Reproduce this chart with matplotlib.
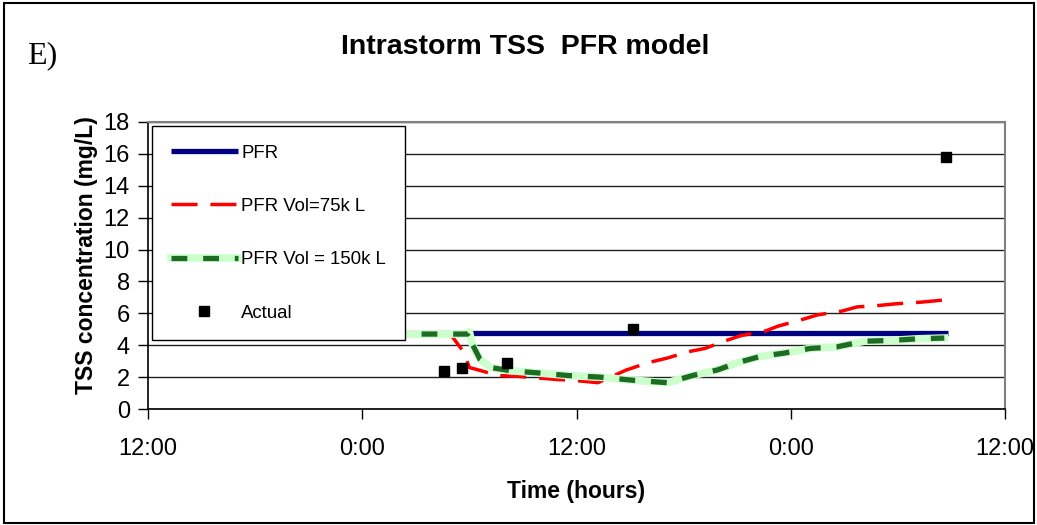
import numpy as np
import matplotlib
matplotlib.use("Agg")
import matplotlib.pyplot as plt
from matplotlib.patches import Rectangle
from matplotlib.legend_handler import HandlerTuple

plt.rcParams['font.family'] = ['Liberation Sans', 'DejaVu Sans']

# time in hours after the first 12:00 tick
tick_pos = [0, 12, 24, 36, 48]
tick_lab = ['12:00', '0:00', '12:00', '0:00', '12:00']

pfr_h = [10, 44.8]
pfr_v = [4.75, 4.75]

vol75_h = [10, 16.9, 17.1, 17.6, 17.8, 18.0, 18.5, 19.6, 20.7, 21.8, 22.9, 23.8, 25.2, 25.5,
           26.8, 28.0, 29.1, 30.3, 31.2, 32.4, 33.2, 34.6, 35.3, 36.6, 37.5, 38.9, 39.7,
           41.0, 41.9, 43.3, 44.7]
vol75_v = [4.7, 4.7, 4.45, 3.7, 3.2, 2.6, 2.45, 2.1, 2.05, 1.95, 1.85, 1.8, 1.65, 1.8,
           2.45, 2.9, 3.2, 3.6, 3.8, 4.3, 4.6, 4.9, 5.2, 5.6, 5.9, 6.15, 6.4,
           6.5, 6.6, 6.7, 6.85]

vol150_h = [10, 17.9, 18.0, 18.15, 18.6, 19.2, 20.3, 22.0, 23.5, 25.3, 27.2, 29.1, 30.5,
            31.9, 33.0, 34.3, 35.6, 37.1, 38.6, 40.1, 41.6, 43.1, 44.6]
vol150_v = [4.7, 4.7, 4.85, 4.1, 3.1, 2.6, 2.4, 2.25, 2.1, 2.0, 1.8, 1.65, 2.1,
            2.45, 2.9, 3.3, 3.5, 3.8, 3.9, 4.25, 4.3, 4.4, 4.45]

actual_h = [16.6, 17.6, 20.1, 27.15, 44.7]
actual_v = [2.4, 2.6, 2.9, 5.0, 15.8]

fig = plt.figure(figsize=(10.37, 5.25), dpi=100)
ax = fig.add_axes([148/1037, 1-409/525, 857/1037, 287/525])

ax.set_axisbelow(True)
ax.yaxis.grid(True, color='#202020', lw=1)

l_pfr, = ax.plot(pfr_h, pfr_v, color='#000080', lw=3.8, solid_capstyle='butt', zorder=3)
l_75, = ax.plot(vol75_h, vol75_v, color='#ff0000', lw=2.5, ls=(0, (7.5, 3.7)), zorder=4)
l_150a, = ax.plot(vol150_h, vol150_v, color='#ccffcc', lw=5.5, zorder=5)
l_150b, = ax.plot(vol150_h, vol150_v, color='#1e6b23', lw=3.8, ls=(0, (3.0, 3.0)), zorder=6)
l_act, = ax.plot(actual_h, actual_v, 's', color='black', ms=7, zorder=7)

ax.set_xlim(0, 48)
ax.set_ylim(0, 18)
ax.set_xticks(tick_pos)
ax.set_xticklabels(tick_lab)
ax.set_yticks(np.arange(0, 19, 2))
ax.tick_params(axis='both', direction='out', length=7, width=1, labelsize=17, color='black')
ax.tick_params(axis='x', pad=14)
ax.tick_params(axis='y', pad=6)

for s in ['top', 'right']:
    ax.spines[s].set_color('#808080')
    ax.spines[s].set_linewidth(1.5)
for s in ['left', 'bottom']:
    ax.spines[s].set_color('black')
    ax.spines[s].set_linewidth(1.2)

ax.set_xlabel('Time (hours)', fontsize=16.5, fontweight='bold', labelpad=14)
ax.set_ylabel('TSS concentration (mg/L)', fontsize=16.5, fontweight='bold')
ax.yaxis.set_label_coords(-0.058, 0.535)

leg = ax.legend([l_pfr, l_75, (l_150a, l_150b), l_act],
                ['PFR', 'PFR Vol=75k L', 'PFR Vol = 150k L', 'Actual'],
                handler_map={tuple: HandlerTuple(ndivide=1)},
                loc='upper left', bbox_to_anchor=(0.0047, 0.986), borderaxespad=0,
                fontsize=13.4, handlelength=3.6, handletextpad=0.2, labelspacing=1.95,
                borderpad=1.0, numpoints=1, fancybox=False, framealpha=1,
                edgecolor='black')
leg.get_frame().set_linewidth(1)
leg.set_zorder(10)

fig.text(0.506, 0.91, 'Intrastorm TSS  PFR model', ha='center', va='center',
         fontsize=20.5, fontweight='bold')
fig.text(27/1037, 1-63/525, 'E)', ha='left', va='baseline', fontsize=23,
         family='Liberation Serif')

fig.add_artist(Rectangle((4/1037, 2/525), 1030/1037, 520/525, transform=fig.transFigure,
                         fill=False, edgecolor='black', lw=1.5))

fig.savefig('out.png', dpi=100)
